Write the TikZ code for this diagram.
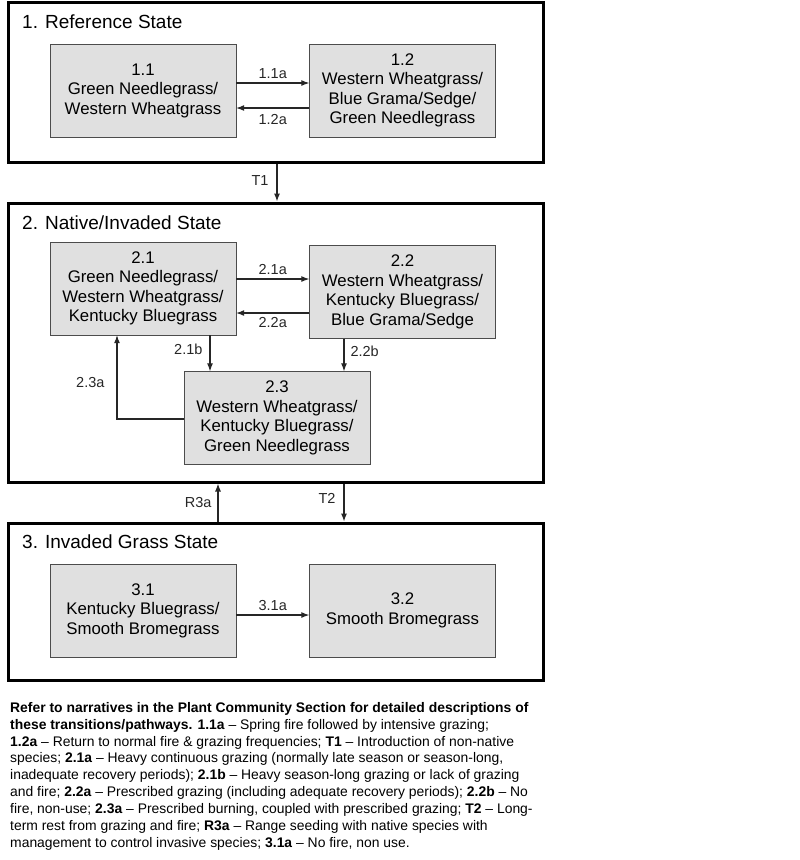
\documentclass[tikz,border=0pt]{standalone}
\usepackage{fontspec}
\setmainfont{Liberation Sans}
\usetikzlibrary{positioning}
\usetikzlibrary{calc}
\usetikzlibrary{arrows.meta}

\tikzset{
  statebox/.style={draw=black, line width=3pt, rectangle, inner sep=0pt},
  community/.style={draw=black!70, fill=black!12, rectangle, align=center,
    inner sep=2pt, minimum width=186pt, minimum height=93pt,
    font=\fontsize{16.8}{19.5}\selectfont},
  statetitle/.style={anchor=west, inner sep=0pt, font=\fontsize{19}{22}\selectfont},
  trans/.style={-{Latex[length=8pt, width=6pt]}, line width=1.1pt, black!85},
  lbl/.style={font=\fontsize{14.5}{16}\selectfont, inner sep=2pt}
}

\begin{document}
\begin{tikzpicture}[x=1pt, y=-1pt]
  \useasboundingbox (0,0) rectangle (800,860);

  % states
  \node[statebox, minimum width=535pt, minimum height=160pt] (st1) at (275.5,82) {};
  \node[statebox, minimum width=535pt, minimum height=279pt] (st2) at (275.5,342.5) {};
  \node[statebox, minimum width=535pt, minimum height=157pt] (st3) at (275.5,601.5) {};
  \node[statetitle] (t1) at (22,22) {1. Reference State};
  \node[statetitle] (t2) at (22,223) {2. Native/Invaded State};
  \node[statetitle] (t3) at (22,542) {3. Invaded Grass State};

  % plant communities
  \node[community] (c11) at (143,90.5) {1.1\\Green Needlegrass/\\Western Wheatgrass};
  \node[community] (c12) at (402.5,90.5) {1.2\\Western Wheatgrass/\\Blue Grama/Sedge/\\Green Needlegrass};
  \node[community] (c21) at (143,288.5) {2.1\\Green Needlegrass/\\Western Wheatgrass/\\Kentucky Bluegrass};
  \node[community] (c22) at (402.5,292) {2.2\\Western Wheatgrass/\\Kentucky Bluegrass/\\Blue Grama/Sedge};
  \node[community] (c23) at (277,418) {2.3\\Western Wheatgrass/\\Kentucky Bluegrass/\\Green Needlegrass};
  \node[community] (c31) at (143,610.5) {3.1\\Kentucky Bluegrass/\\Smooth Bromegrass};
  \node[community] (c32) at (402.5,610.5) {3.2\\Smooth Bromegrass};

  % pathways
  \draw[trans] (c11.east |- 0,83) -- node[lbl, above=2pt] {1.1a} (c12.west |- 0,83);
  \draw[trans] (c12.west |- 0,108) -- node[lbl, below=4pt] {1.2a} (c11.east |- 0,108);
  \draw[trans] (c21.east |- 0,279) -- node[lbl, above=2pt] {2.1a} (c22.west |- 0,279);
  \draw[trans] (c22.west |- 0,313) -- node[lbl, below=2pt] {2.2a} (c21.east |- 0,313);
  \draw[trans] (c21.south -| 210,0) -- node[lbl, left=5pt, pos=0.4] {2.1b} (c23.north -| 210,0);
  \draw[trans] (c22.south -| 344,0) -- node[lbl, right=4pt, pos=0.4] {2.2b} (c23.north -| 344,0);
  \draw[trans] (c23.west |- 0,419) -| node[lbl, left=10pt, pos=0.72] {2.3a} (c21.south -| 117,0);
  \draw[trans] (c31.east |- 0,615) -- node[lbl, above=2pt] {3.1a} (c32.west |- 0,615);

  % transitions
  \draw[trans] (st1.south -| 277,0) -- node[lbl, left=6pt, pos=0.45] {T1} (st2.north -| 277,0);
  \draw[trans] (st2.south -| 344,0) -- node[lbl, left=6pt, pos=0.4] {T2} (st3.north -| 344,0);
  \draw[trans] (st3.north -| 218,0) -- node[lbl, left=4pt, pos=0.5] {R3a} (st2.south -| 218,0);

  % legend
  \node[anchor=north west, inner sep=0pt, align=left,
    font=\fontsize{13.9}{16.9}\selectfont] (notes) at (10,702) {%
    \textbf{Refer to narratives in the Plant Community Section for detailed descriptions of}\\
    \textbf{these transitions/pathways.} \textbf{1.1a} -- Spring fire followed by intensive grazing;\\
    \textbf{1.2a} -- Return to normal fire \& grazing frequencies; \textbf{T1} -- Introduction of non-native\\
    species; \textbf{2.1a} -- Heavy continuous grazing (normally late season or season-long,\\
    inadequate recovery periods); \textbf{2.1b} -- Heavy season-long grazing or lack of grazing\\
    and fire; \textbf{2.2a} -- Prescribed grazing (including adequate recovery periods); \textbf{2.2b} -- No\\
    fire, non-use; \textbf{2.3a} -- Prescribed burning, coupled with prescribed grazing; \textbf{T2} -- Long-\\
    term rest from grazing and fire; \textbf{R3a} -- Range seeding with native species with\\
    management to control invasive species; \textbf{3.1a} -- No fire, non use.};
\end{tikzpicture}
\end{document}
